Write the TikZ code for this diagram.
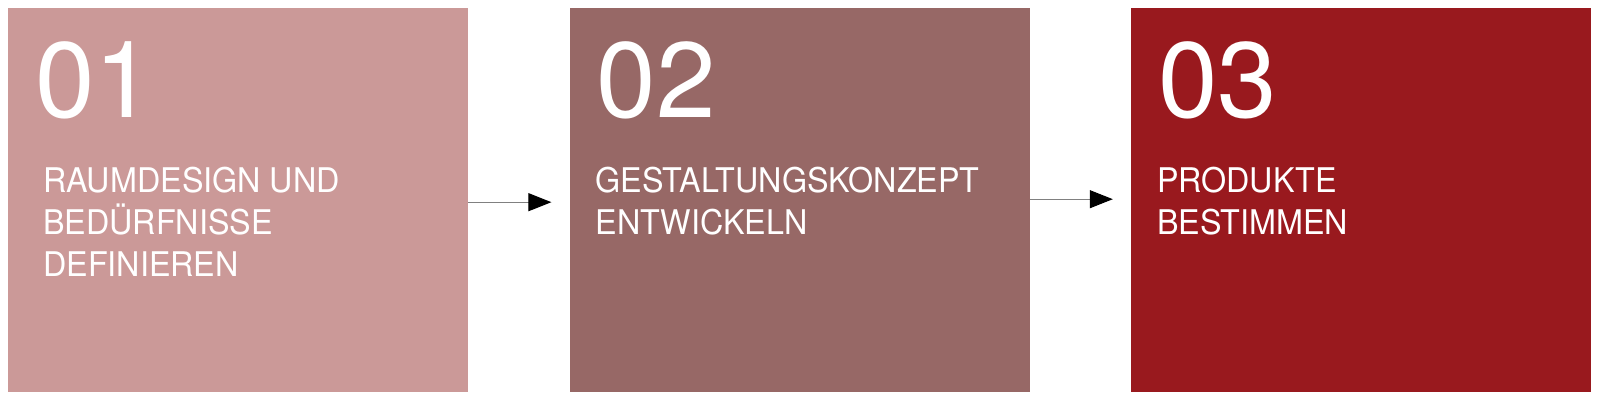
\documentclass[tikz,border=0pt]{standalone}
\usepackage{fontspec}
\setmainfont{TeX Gyre Heros}
\newfontfamily\labelfont[FakeStretch=0.95]{TeX Gyre Heros}
\usetikzlibrary{arrows.meta,positioning}
\definecolor{rosa}{HTML}{CB9998}
\definecolor{mauve}{HTML}{976866}
\definecolor{weinrot}{HTML}{99191E}
\tikzset{
  box/.style={rectangle, inner sep=0, minimum width=460pt, minimum height=384pt},
  num/.style={anchor=base west, inner sep=0, text=white, font=\fontsize{107}{107}\selectfont},
  txt/.style={anchor=base west, inner sep=0, text=white, align=left, font=\labelfont\fontsize{34}{42}\selectfont},
  flow/.style={draw=gray, line width=1pt, shorten >=18pt, -{Triangle[length=23pt,width=18pt,black]}}
}
\begin{document}
\begin{tikzpicture}[x=1pt,y=1pt]
  \useasboundingbox (0,0) rectangle (1600,401);

  % three steps
  \node[box, fill=rosa, anchor=north west] (b1) at (8,393) {};
  \node[box, fill=mauve, right=101pt of b1] (b2) {};
  \node[box, fill=weinrot, right=101pt of b2] (b3) {};

  \node[num] (n1) at ([xshift=27pt,yshift=-110pt]b1.north west) {01};
  \node[num] (n2) at ([xshift=27pt,yshift=-110pt]b2.north west) {02};
  \node[num] (n3) at ([xshift=27pt,yshift=-110pt]b3.north west) {03};

  % base of the last line
  \node[txt] (t1) at ([xshift=35pt,yshift=-269pt]b1.north west) {RAUMDESIGN UND\\BEDÜRFNISSE\\DEFINIEREN};
  \node[txt] (t2) at ([xshift=26pt,yshift=-227pt]b2.north west) {GESTALTUNGSKONZEPT\\ENTWICKELN};
  \node[txt] (t3) at ([xshift=26pt,yshift=-227pt]b3.north west) {PRODUKTE\\BESTIMMEN};

  % arrows between the steps
  \draw[flow] ([yshift=-2pt]b1.east) -- ([yshift=-2pt]b2.west);
  \draw[flow] ([yshift=1pt]b2.east) -- ([yshift=1pt]b3.west);
\end{tikzpicture}
\end{document}
